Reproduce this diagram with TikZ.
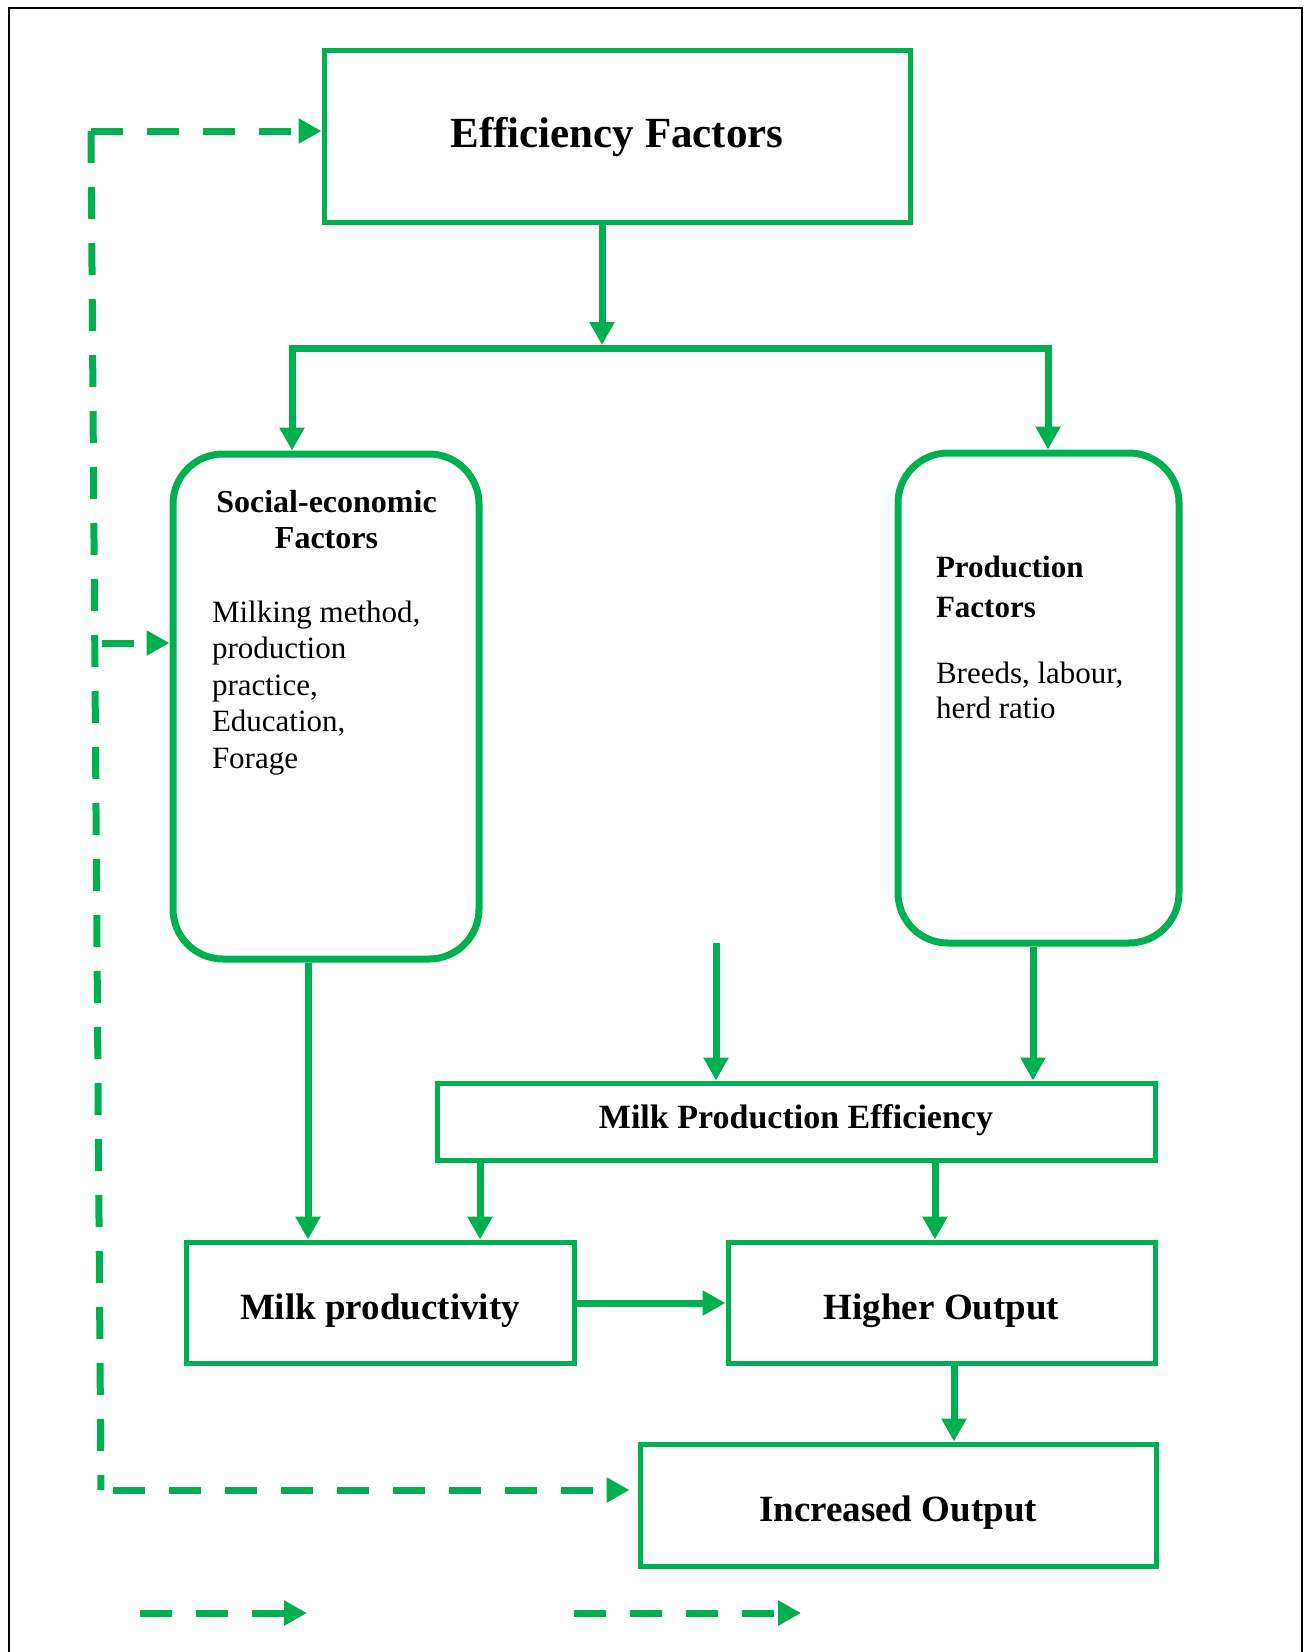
\documentclass[tikz,border=0pt]{standalone}
\usepackage{fontspec}
\setmainfont{Liberation Serif}
\usetikzlibrary{arrows.meta}
\definecolor{gr}{HTML}{00B050}
\begin{document}
\begin{tikzpicture}[x=1pt,y=-1pt,
  >={Triangle[length=23pt,width=24pt]},
  box/.style={draw=gr,line width=5pt,inner sep=0pt,text depth=0pt},
  rbox/.style={draw=gr,line width=7pt,inner sep=0pt,rounded corners=50pt},
  conn/.style={draw=gr,line width=7pt,line join=miter},
  dconn/.style={draw=gr,line width=7pt,dash pattern=on 32pt off 24pt},
  bigfont/.style={font=\fontsize{43}{50}\selectfont\bfseries},
  midfont/.style={font=\fontsize{37}{44}\selectfont\bfseries},
  mpefont/.style={font=\fontsize{34}{40}\selectfont\bfseries},
  txt/.style={inner sep=0pt,outer sep=0pt},
]
\useasboundingbox (0,0) rectangle (1309,1652);
\fill[white] (0,0) rectangle (1309,1652);
\draw[line width=2pt] (9,1660) -- (9,8) -- (1302,8) -- (1302,1660);

% boxes
\node[box,bigfont,minimum width=586pt,minimum height=172pt,text height=22pt] (ef) at (617,136) {Efficiency Factors};
\node[rbox,minimum width=306pt,minimum height=505pt] (se) at (326,706.5) {};
\node[rbox,minimum width=281pt,minimum height=490pt] (pf) at (1038.5,698) {};
\node[box,mpefont,minimum width=718pt,minimum height=77pt,text height=13pt] (mpe) at (796,1121.5) {Milk Production Efficiency};
\node[box,midfont,minimum width=388pt,minimum height=121pt,text height=33pt] (mp) at (380,1302.5) {Milk productivity};
\node[box,midfont,minimum width=427pt,minimum height=121pt,text height=33pt] (ho) at (941.5,1302.5) {Higher Output};
\node[box,midfont,minimum width=516pt,minimum height=122pt,text height=33pt] (io) at (898,1505) {Increased Output};

% texts inside rounded boxes (anchor = baseline of last line)
\node[txt,anchor=base,align=center,font=\fontsize{32}{36}\selectfont\bfseries] (seh) at (326.5,548) {Social-economic\\Factors};
\node[txt,anchor=base west,align=left,font=\fontsize{31}{36.6}\selectfont] (seb) at (212,768.4) {Milking method,\\production\\practice,\\Education,\\Forage};
\node[txt,anchor=base west,align=left,font=\fontsize{31}{40}\selectfont\bfseries] (pfh) at (936,617) {Production\\Factors};
\node[txt,anchor=base west,align=left,font=\fontsize{31}{35}\selectfont] (pfb) at (936,718) {Breeds, labour,\\herd ratio};

% helper coordinates
\coordinate (j) at (602,345);
\coordinate (bl) at (292,348);
\coordinate (br) at (1048,348);
\coordinate (xa) at (308,0);
\coordinate (xb) at (480,0);
\coordinate (xc) at (935,0);
\coordinate (xd) at (1033,0);
\coordinate (xe) at (954,0);
\coordinate (ya) at (0,1303);
\coordinate (fa) at (716,943);

% solid connectors
\draw[conn,->] (ef.south -| j) -- (j);
\draw[conn,<->] (bl |- se.north) -- (bl) -- (br) -- (br |- pf.north);
\draw[conn,->] (se.south -| xa) -- (mp.north -| xa);
\draw[conn,->] (pf.south -| xd) -- (mpe.north -| xd);
\draw[conn,->] (fa) -- (mpe.north -| fa);
\draw[conn,->] (mpe.south -| xb) -- (mp.north -| xb);
\draw[conn,->] (mpe.south -| xc) -- (ho.north -| xc);
\draw[conn,->] (mp.east |- ya) -- (ho.west |- ya);
\draw[conn,->] (ho.south -| xe) -- (io.north -| xe);

% dashed feedback
\coordinate (c1) at (91,131);
\coordinate (c2) at (102,643);
\coordinate (c3) at (101,1490);
\draw[dconn] (c1) -- (c3);
\draw[dconn,->] (c1) -- (c1 -| ef.west);
\draw[dconn,->] (c2) -- (c2 -| se.west);
\draw[dconn,->,dash phase=44pt,shorten >=8pt] (c3) -- (c3 -| io.west);

% legend arrows
\coordinate (l1) at (140,1613);
\coordinate (l2) at (307,1613);
\coordinate (l3) at (574,1613);
\coordinate (l4) at (801,1613);
\draw[dconn,->] (l1) -- (l2);
\draw[dconn,->] (l3) -- (l4);
\end{tikzpicture}
\end{document}
